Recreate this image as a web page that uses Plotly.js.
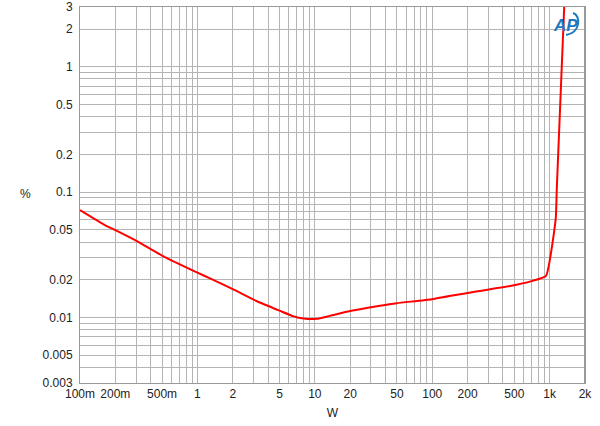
<!DOCTYPE html>
<html>
<head>
<meta charset="utf-8">
<script src="https://cdn.plot.ly/plotly-3.0.1.min.js"></script>
<style>html,body{margin:0;padding:0;background:#fff;}#chart{width:600px;height:426px;}</style>
</head>
<body>
<div id="chart"></div>
<script>
// Data (THD+N % vs output power W)
const powerW = [0.1, 0.163, 0.2, 0.3, 0.5, 1, 1.28, 2.02, 3.18, 5.06, 6.6, 8, 10.4, 13.4, 18.7, 36, 50, 100, 200, 460, 700, 931, 1127, 1149, 1330];
const thdPct = [0.072, 0.0546, 0.0497, 0.041, 0.0312, 0.0228, 0.0205, 0.01675, 0.01353, 0.01128, 0.0102, 0.0098, 0.00975, 0.0103, 0.0111, 0.0124, 0.0130, 0.0140, 0.0157, 0.0178, 0.0195, 0.0215, 0.0618, 0.104, 3.0];

const xGrid = [0.1,0.2,0.3,0.4,0.5,0.6,0.7,0.8,0.9,1,2,3,4,5,6,7,8,9,10,20,30,40,50,60,70,80,90,100,200,300,400,500,600,700,800,900,1000,2000];
const xLabels = ["100m","200m","","","500m","","","","","1","2","","","5","","","","","10","20","","","50","","","","","100","200","","","500","","","","","1k","2k"];
const yGrid = [0.003,0.004,0.005,0.006,0.007,0.008,0.009,0.01,0.02,0.03,0.04,0.05,0.06,0.07,0.08,0.09,0.1,0.2,0.3,0.4,0.5,0.6,0.7,0.8,0.9,1,2,3];
const yLabels = ["0.003","","0.005","","","","","0.01","0.02","","","0.05","","","","","0.1","0.2","","","0.5","","","","","1","2","3"];

const trace = {
  x: powerW, y: thdPct, type: 'scatter', mode: 'lines',
  line: {color: '#ff0000', width: 2, shape: 'spline', smoothing: 0.4},
  hoverinfo: 'skip'
};

const layout = {
  width: 600, height: 426,
  margin: {l: 80, r: 15, t: 7, b: 43},
  paper_bgcolor: '#ffffff', plot_bgcolor: '#ffffff',
  showlegend: false,
  font: {family: 'Liberation Sans, Arial, sans-serif', size: 12, color: '#222'},
  xaxis: {
    type: 'log', range: [Math.log10(0.1), Math.log10(2000)],
    tickmode: 'array', tickvals: xGrid, ticktext: xLabels,
    showgrid: true, gridcolor: '#b4b4b4', gridwidth: 1,
    ticks: '', showline: true, linecolor: '#999', linewidth: 1, mirror: true,
    zeroline: false, tickangle: 0,
    title: {text: 'W', font: {size: 12, color: '#222'}, standoff: 8}
  },
  yaxis: {
    type: 'log', range: [Math.log10(0.003), Math.log10(3)],
    tickmode: 'array', tickvals: yGrid, ticktext: yLabels,
    showgrid: true, gridcolor: '#b4b4b4', gridwidth: 1,
    ticks: '', showline: true, linecolor: '#999', linewidth: 1, mirror: true,
    zeroline: false, ticklabelstandoff: 4
  },
  shapes: [
    {type: 'line', xref: 'paper', yref: 'paper', x0: 1, x1: 1, y0: 0, y1: 1, line: {color: '#999', width: 2}},
    {type: 'path', xref: 'paper', yref: 'paper', layer: 'above',
     path: 'M 0.9762 0.984 C 0.992 0.978, 0.992 0.933, 0.9624 0.9255',
     line: {color: '#1d78bf', width: 2}}
  ],
  annotations: [
    {text: '%', xref: 'paper', yref: 'paper', x: -0.108, y: 0.503, xanchor: 'center', yanchor: 'middle', showarrow: false, font: {size: 12, color: '#222'}},
    {text: '<b><i>AP</i></b>', xref: 'paper', yref: 'paper', x: 0.962, y: 0.982, xanchor: 'center', yanchor: 'top', showarrow: false,
     font: {size: 17, color: '#1d78bf', family: 'Liberation Sans, Arial, sans-serif'}}
  ]
};

Plotly.newPlot('chart', [trace], layout, {displayModeBar: false, staticPlot: true});
</script>
</body>
</html>
